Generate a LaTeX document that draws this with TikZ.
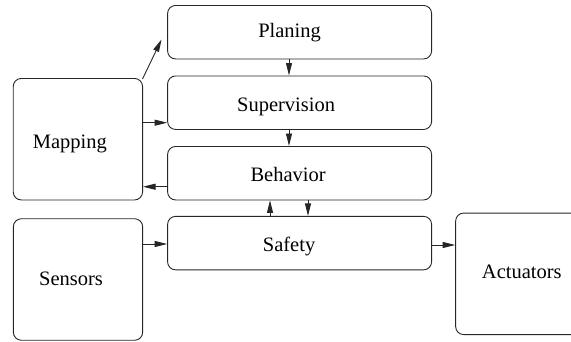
\documentclass[tikz,border=0pt]{standalone}
\usepackage{fontspec}
\setmainfont{Liberation Serif}
\usetikzlibrary{arrows.meta}
% #1 = twice the leftward shift, #2 = vertical raise, #3 = text
\newcommand\boxtxt[3]{\raisebox{#2}{#3\hspace*{#1}}}
\begin{document}
\begin{tikzpicture}[x=1pt,y=-1pt,
  box/.style={draw=black!85, line width=0.9pt, rounded corners=8pt, inner sep=0pt,
    text height=14pt, text depth=4pt,
    font=\fontsize{20.5}{24}\selectfont},
  wide/.style={box, minimum width=264pt, minimum height=53.5pt},
  tall/.style={box, minimum width=129.3pt, minimum height=121.5pt},
  arr/.style={draw=black!85, line width=0.9pt, -{Triangle[length=12.5pt,width=6pt]}}]
\useasboundingbox (0,0) rectangle (571,341);
\node[wide] (Planing) at (299.6,32.2) {\boxtxt{20pt}{0pt}{Planing}};
\node[wide] (Supervision) at (299.6,102.7) {\boxtxt{27pt}{-4pt}{Supervision}};
\node[wide] (Behavior) at (299.6,173.2) {\boxtxt{23pt}{-3.5pt}{Behavior}};
\node[wide] (Safety) at (299.6,243.1) {\boxtxt{21pt}{-3.5pt}{Safety}};
\node[tall] (Mapping) at (77.9,139.2) {\boxtxt{16pt}{-4pt}{Mapping}};
\node[tall] (Sensors) at (78,279.5) {\boxtxt{14pt}{-0.5pt}{Sensors}};
\node[tall] (Actuators) at (520.3,273.8) {\boxtxt{-3pt}{0pt}{Actuators}};
\coordinate (ptip) at (161.5,39.5);
\draw[arr] ([xshift=-0.5pt,yshift=-1pt]Mapping.north east) -- (ptip);
\draw[arr] (Mapping.east |- 0,122.7) -- (Supervision.west |- 0,122.7);
\draw[arr] (Behavior.west |- 0,186.7) -- (Mapping.east |- 0,186.7);
\draw[arr] (Planing.south -| 289,0) -- (Supervision.north -| 289,0);
\draw[arr] (Supervision.south -| 289,0) -- (Behavior.north -| 289,0);
\draw[arr] (Safety.north -| 270,0) -- (Behavior.south -| 270,0);
\draw[arr] (Behavior.south -| 308,0) -- (Safety.north -| 308,0);
\draw[arr] (Sensors.east |- 0,244) -- (Safety.west |- 0,244);
\draw[arr] (Safety.east |- 0,245) -- (Actuators.west |- 0,245);
\end{tikzpicture}
\end{document}
